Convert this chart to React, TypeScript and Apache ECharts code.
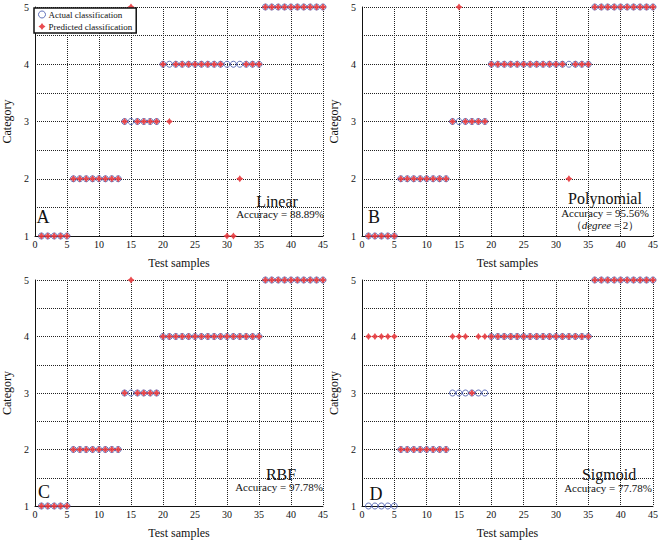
import React, { useEffect, useRef } from "react";
import * as echarts from "echarts";

// Actual class of test samples 1..45 (same in every panel)
const actualClass = [1,1,1,1,1,2,2,2,2,2,2,2,2,3,3,3,3,3,3,4,4,4,4,4,4,4,4,4,4,4,4,4,4,4,4,5,5,5,5,5,5,5,5,5,5];
// Predicted classes per kernel
const linearPred = [1,1,1,1,1,2,2,2,2,2,2,2,2,3,5,3,3,3,3,4,3,4,4,4,4,4,4,4,4,1,1,2,4,4,4,5,5,5,5,5,5,5,5,5,5];
const polyPred = [1,1,1,1,1,2,2,2,2,2,2,2,2,3,5,3,3,3,3,4,4,4,4,4,4,4,4,4,4,4,4,2,4,4,4,5,5,5,5,5,5,5,5,5,5];
const rbfPred = [1,1,1,1,1,2,2,2,2,2,2,2,2,3,5,3,3,3,3,4,4,4,4,4,4,4,4,4,4,4,4,4,4,4,4,5,5,5,5,5,5,5,5,5,5];
const sigmoidPred = [4,4,4,4,4,2,2,2,2,2,2,2,2,4,4,4,3,4,4,4,4,4,4,4,4,4,4,4,4,4,4,4,4,4,4,5,5,5,5,5,5,5,5,5,5];

const panelLetters = ["A", "B", "C", "D"];
const kernelNames = ["Linear", "Polynomial", "RBF", "Sigmoid"];
const accuracies = ["Accuracy = 88.89%", "Accuracy = 95.56%", "Accuracy = 97.78%", "Accuracy = 77.78%"];
const predictions = [linearPred, polyPred, rbfPred, sigmoidPred];
const xTicksMax = 45;

const BLUE = "#3b4fa8";
const RED = "#e8383d";
const FONT = "Liberation Serif";
const STAR = "path://M0,-10 L4,-4 L10,0 L4,4 L0,10 L-4,4 L-10,0 L-4,-4 Z";

const grids = [
  { left: 32, top: 7, width: 291, height: 229 },
  { left: 362, top: 7, width: 293, height: 229 },
  { left: 32, top: 280, width: 291, height: 229 },
  { left: 362, top: 280, width: 293, height: 229 },
];

const textPos = [
  { letter: [43, 217], name: [277, 201], acc: [280, 214] },
  { letter: [374, 217], name: [605, 198], acc: [605, 213] },
  { letter: [44, 492], name: [281, 474], acc: [279, 487] },
  { letter: [376, 494], name: [609, 474], acc: [608, 488] },
];

export default function App() {
  const ref = useRef<HTMLDivElement>(null);
  useEffect(() => {
    if (!ref.current) return;
    const chart = echarts.init(ref.current, undefined, { renderer: "svg" });
    const toPts = (arr: number[]) => arr.map((v, i) => [i + 1, v]);
    const gridLine = { show: true, lineStyle: { type: "dotted" as const, color: "#222", width: 1 } };
    const xAxis = grids.map((_, i) => ({
      type: "value",
      gridIndex: i,
      min: 0,
      max: xTicksMax,
      interval: 5,
      name: "Test samples",
      nameLocation: "middle",
      nameGap: 21,
      nameTextStyle: { fontFamily: FONT, fontSize: 12, color: "#111" },
      axisLine: { show: true, onZero: false, lineStyle: { color: "#111", width: 1 } },
      axisTick: { show: false },
      axisLabel: { fontFamily: FONT, fontSize: 10, color: "#111", margin: 3 },
      splitLine: gridLine,
    }));
    const yAxis = grids.map((_, i) => ({
      type: "value",
      gridIndex: i,
      min: 1,
      max: 5,
      interval: 0.5,
      name: "Category",
      nameLocation: "middle",
      nameGap: 22,
      nameTextStyle: { fontFamily: FONT, fontSize: 12, color: "#111" },
      axisLine: { show: true, onZero: false, lineStyle: { color: "#111", width: 1 } },
      axisTick: { show: false },
      axisLabel: {
        fontFamily: FONT,
        fontSize: 10,
        color: "#111",
        margin: 6,
        formatter: (v: number) => (Number.isInteger(v) ? String(v) : ""),
      },
      splitLine: gridLine,
    }));
    const series: any[] = [];
    grids.forEach((_, i) => {
      series.push({
        type: "scatter",
        name: "Actual classification",
        xAxisIndex: i,
        yAxisIndex: i,
        data: toPts(actualClass),
        symbol: "circle",
        symbolSize: 6,
        clip: false,
        itemStyle: { color: "rgba(255,255,255,0)", borderColor: BLUE, borderWidth: 1 },
        z: 2,
      });
      series.push({
        type: "scatter",
        name: "Predicted classification",
        xAxisIndex: i,
        yAxisIndex: i,
        data: toPts(predictions[i]),
        symbol: STAR,
        symbolSize: 7,
        clip: false,
        itemStyle: { color: RED, opacity: 0.9 },
        z: 3,
      });
    });
    const graphic: any[] = [];
    textPos.forEach((p, i) => {
      graphic.push({
        type: "text",
        x: p.letter[0],
        y: p.letter[1],
        style: { text: panelLetters[i], fontFamily: FONT, fontSize: 18, fill: "#111", align: "center", verticalAlign: "middle" },
      });
      graphic.push({
        type: "text",
        x: p.name[0],
        y: p.name[1],
        style: { text: kernelNames[i], fontFamily: FONT, fontSize: 16, fill: "#111", align: "center", verticalAlign: "middle" },
      });
      graphic.push({
        type: "text",
        x: p.acc[0],
        y: p.acc[1],
        style: { text: accuracies[i], fontFamily: FONT, fontSize: 11, fill: "#111", align: "center", verticalAlign: "middle" },
      });
    });
    graphic.push({
      type: "text",
      x: 605,
      y: 225,
      style: {
        text: "（{i|degree} = 2）",
        fontFamily: FONT,
        fontSize: 11,
        fill: "#111",
        align: "center",
        verticalAlign: "middle",
        rich: { i: { fontStyle: "italic", fontFamily: FONT, fontSize: 11 } },
      },
    });
    chart.setOption({
      animation: false,
      backgroundColor: "#fff",
      textStyle: { fontFamily: FONT },
      grid: grids.map((g) => ({ ...g, containLabel: false })),
      xAxis,
      yAxis,
      series,
      graphic,
      legend: {
        left: 34,
        top: 8,
        orient: "vertical",
        backgroundColor: "#fff",
        borderColor: "#111",
        borderWidth: 1.5,
        borderRadius: 0,
        padding: [2, 4, 2, 4],
        itemGap: 3,
        itemWidth: 7,
        itemHeight: 7,
        textStyle: { fontFamily: FONT, fontSize: 9, color: "#111", padding: [0, 0, 0, -2] },
        selectedMode: false,
        data: [
          {
            name: "Actual classification",
            icon: "circle",
            itemStyle: { color: "rgba(255,255,255,0)", borderColor: BLUE, borderWidth: 1 },
          },
          { name: "Predicted classification", icon: STAR, itemStyle: { color: RED } },
        ],
      },
    });
    return () => chart.dispose();
  }, []);
  return <div ref={ref} style={{ position: "absolute", left: 0, top: 0, width: 661, height: 540 }} />;
}
